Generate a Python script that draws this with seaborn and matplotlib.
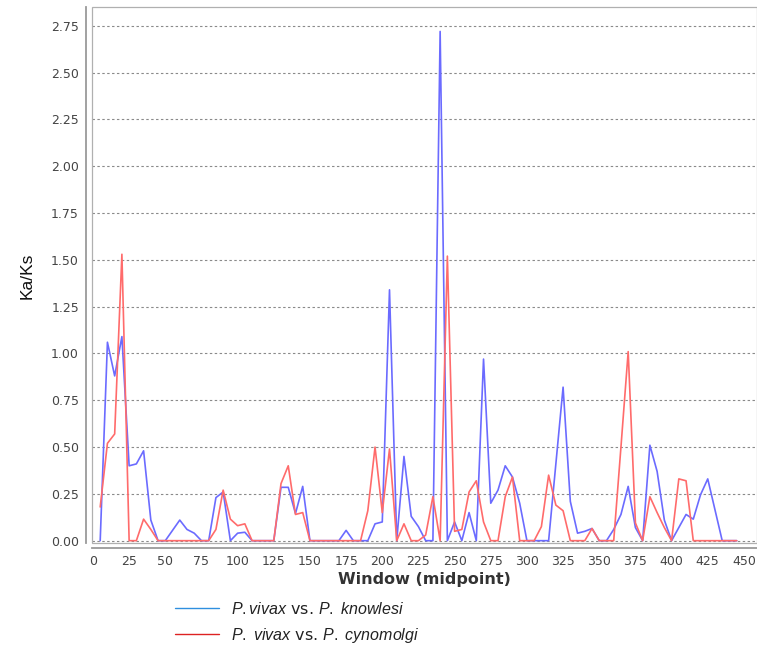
import numpy as np
import pandas as pd
import matplotlib
matplotlib.use("Agg")
import matplotlib.pyplot as plt
import seaborn as sns
from matplotlib.lines import Line2D
from matplotlib.patches import Rectangle

sns.set_style("white")
plt.rcParams["font.family"] = ["DejaVu Sans"]
plt.rcParams["mathtext.fontset"] = "custom"
plt.rcParams["mathtext.it"] = "Liberation Sans:italic"
plt.rcParams["mathtext.rm"] = "Liberation Sans"

# window midpoints
window = list(range(5, 450, 5))

# Ka/Ks, P. vivax vs P. knowlesi
knowlesi = [0, 1.06, 0.88, 1.09, 0.40, 0.41, 0.48, 0.11, 0, 0,
            0.055, 0.11, 0.06, 0.04, 0, 0, 0.23, 0.26, 0, 0.04,
            0.045, 0, 0, 0, 0, 0.285, 0.285, 0.145, 0.29, 0,
            0, 0, 0, 0, 0.055, 0, 0, 0, 0.09, 0.10,
            1.34, 0, 0.45, 0.13, 0.075, 0, 0, 2.72, 0, 0.10,
            0, 0.15, 0, 0.97, 0.20, 0.27, 0.40, 0.34, 0.20, 0,
            0, 0, 0, 0.41, 0.82, 0.21, 0.04, 0.05, 0.065, 0,
            0, 0.06, 0.14, 0.29, 0.07, 0, 0.51, 0.37, 0.11, 0,
            0.07, 0.14, 0.115, 0.245, 0.33, 0.165, 0, 0, 0]

# Ka/Ks, P. vivax vs P. cynomolgi
cynomolgi = [0.18, 0.52, 0.57, 1.53, 0, 0, 0.115, 0.06, 0, 0,
             0, 0, 0, 0, 0, 0, 0.06, 0.27, 0.115, 0.08,
             0.09, 0, 0, 0, 0, 0.305, 0.40, 0.14, 0.15, 0,
             0, 0, 0, 0, 0, 0, 0, 0.16, 0.50, 0.15,
             0.49, 0, 0.09, 0, 0, 0.03, 0.235, 0, 1.52, 0.05,
             0.06, 0.26, 0.32, 0.10, 0, 0, 0.235, 0.34, 0, 0,
             0, 0.075, 0.35, 0.19, 0.16, 0, 0, 0, 0.065, 0,
             0, 0, 0.5, 1.01, 0.095, 0, 0.235, 0.15, 0.07, 0,
             0.33, 0.32, 0, 0, 0, 0, 0, 0, 0]

series_names = ["knowlesi", "cynomolgi"]
legend_labels = [r"$\mathit{P.vivax}$ vs. $\mathit{P.\ knowlesi}$",
                 r"$\mathit{P.\ vivax}$ vs. $\mathit{P.\ cynomolgi}$"]
x_ticks = list(range(0, 475, 25))
y_ticks = [0.00, 0.25, 0.50, 0.75, 1.00, 1.25, 1.50, 1.75, 2.00, 2.25, 2.50, 2.75]

df = pd.DataFrame({
    "window": window * 2,
    "kaks": knowlesi + cynomolgi,
    "pair": ["knowlesi"] * len(window) + ["cynomolgi"] * len(window),
})

fig = plt.figure(figsize=(7.57, 6.47), dpi=100)
ax = fig.add_axes([0.1209, 0.16, 0.879, 0.8287])

pal = {"knowlesi": "#6b6bff", "cynomolgi": "#ff6b6b"}
sns.lineplot(data=df, x="window", y="kaks", hue="pair", hue_order=series_names,
             palette=pal, linewidth=1.2, legend=False, ax=ax, estimator=None)

ax.set_xlim(-1, 459)
ax.set_ylim(-0.015, 2.849)
ax.set_xticks(x_ticks)
ax.set_yticks(y_ticks)
ax.set_yticklabels([f"{v:.2f}" for v in y_ticks])
for y in y_ticks:
    ax.axhline(y, color="#8a8a8a", lw=0.8, ls=(0, (2.2, 2.2)), zorder=0)

for s in ["top", "right"]:
    ax.spines[s].set_visible(False)
for s in ["left", "bottom"]:
    ax.spines[s].set_color("#9a9a9a")
    ax.spines[s].set_linewidth(1.3)
ax.spines["left"].set_position(("outward", 4))
ax.spines["bottom"].set_position(("outward", 3))
ax.add_patch(Rectangle((0, 0), 1, 1, transform=ax.transAxes, fill=False,
                       ec="#b0b0b0", lw=0.9, clip_on=False, zorder=5))

ax.tick_params(axis="both", direction="out", length=3, width=0.8, color="#888888",
               labelsize=9, labelcolor="#444444", pad=2)
ax.set_xlabel("Window (midpoint)", fontsize=11.5, fontweight="bold", color="#333333", labelpad=3)
ax.set_ylabel("Ka/Ks", fontsize=12.5, family="Liberation Sans", color="#111111", labelpad=12)

handles = [Line2D([], [], color="#2f8fdf", lw=1.0),
           Line2D([], [], color="#dd2222", lw=1.0)]
fig.legend(handles, legend_labels, loc="upper left", bbox_to_anchor=(0.231, 0.071),
           frameon=False, fontsize=11.5, handlelength=2.75, handletextpad=0.75,
           labelspacing=0.55, borderaxespad=0, borderpad=0, labelcolor="#222222")

fig.savefig("out.png", dpi=100)
